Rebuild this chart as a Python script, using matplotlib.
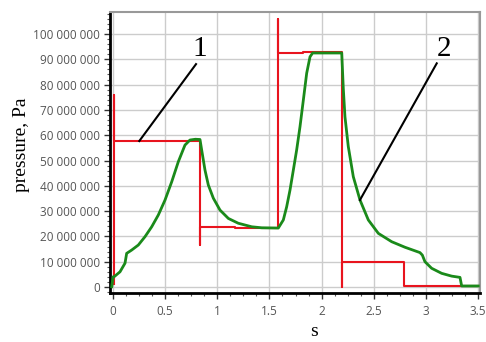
import matplotlib.pyplot as plt
from matplotlib.ticker import MultipleLocator, FuncFormatter

# time, s
green_t = [-0.012, 0.0, 0.012, 0.067, 0.115, 0.131, 0.179, 0.243, 0.307, 0.371,
           0.435, 0.499, 0.563, 0.626, 0.690, 0.738, 0.79, 0.834, 0.85, 0.882,
           0.914, 0.962, 1.026, 1.106, 1.201, 1.33, 1.426, 1.585, 1.633, 1.665,
           1.697, 1.729, 1.761, 1.793, 1.825, 1.857, 1.889, 1.914, 2.193, 2.208,
           2.224, 2.256, 2.304, 2.368, 2.448, 2.544, 2.672, 2.8, 2.943, 2.966,
           2.991, 3.055, 3.151, 3.247, 3.327, 3.343, 3.502]
# pressure, MPa
green_p = [0.1, 4.0, 4.1, 6.0, 9.4, 13.3, 14.6, 16.6, 19.9, 23.8,
           28.5, 34.4, 41.6, 49.5, 56.1, 58.1, 58.4, 58.3, 54.2, 46.2,
           40.3, 35.1, 30.4, 27.1, 25.2, 23.8, 23.4, 23.3, 26.5, 31.7,
           38.3, 46.2, 54.2, 63.4, 73.9, 84.5, 91.0, 92.5, 92.5, 78.5,
           67.3, 55.5, 43.6, 34.4, 26.5, 21.2, 17.9, 15.7, 13.6, 12.6,
           10.0, 7.4, 5.4, 4.3, 3.8, 0.4, 0.4]

red_t = [0.01, 0.01, 0.01, 0.834, 0.834, 0.834, 1.17, 1.17, 1.585, 1.585,
         1.585, 1.82, 1.82, 2.193, 2.193, 2.193, 2.793, 2.793, 3.5]
red_p = [1.0, 76.0, 57.7, 57.7, 16.6, 23.8, 23.8, 23.3, 23.3, 105.8,
         92.4, 92.4, 92.8, 92.8, 0.0, 10.0, 10.0, 0.3, 0.3]

# callouts: label, point on curve, end of leader line, label position (s, MPa)
callouts = [("1", (0.252, 57.7), (0.796, 88.1), (0.834, 94.0)),
            ("2", (2.368, 34.4), (3.104, 88.4), (3.17, 94.0))]

fig = plt.figure(figsize=(4.86, 3.42), dpi=100)
ax = fig.add_axes([0.2263, 0.1433, 0.7614, 0.8216])

ax.plot(red_t, [p * 1e6 for p in red_p], color='#e8141e', lw=1.5, zorder=3)
ax.plot(green_t, [p * 1e6 for p in green_p], color='#1a8a1a', lw=2, zorder=4)

for label, start, end, pos in callouts:
    ax.plot([start[0], end[0]], [start[1] * 1e6, end[1] * 1e6], color='black', lw=1.5, zorder=5)
    ax.text(pos[0], pos[1] * 1e6, label, ha='center', va='center',
            fontsize=21, family='Liberation Serif', zorder=5)

ax.set_xlim(-0.029, 3.519)
ax.set_ylim(-2.37e6, 108.7e6)

ax.xaxis.set_major_locator(MultipleLocator(0.5))
ax.xaxis.set_minor_locator(MultipleLocator(0.125))
ax.yaxis.set_major_locator(MultipleLocator(10e6))
ax.yaxis.set_minor_locator(MultipleLocator(2e6))
ax.xaxis.set_major_formatter(FuncFormatter(lambda v, pos: f"{v:g}"))
ax.yaxis.set_major_formatter(FuncFormatter(lambda v, pos: f"{int(round(v)):,}".replace(",", " ")))

ax.grid(True, which='major', color='#cccccc', lw=1)
ax.set_axisbelow(True)

ax.tick_params(which='major', length=4, width=1, color='#333333',
               labelsize=8.5, labelcolor='#555555', pad=3)
ax.tick_params(which='minor', length=2, width=0.8, color='#555555')
ax.tick_params(axis='x', pad=5)
for lab in ax.get_xticklabels() + ax.get_yticklabels():
    lab.set_family('Open Sans')

for side in ['left', 'bottom']:
    ax.spines[side].set_linewidth(2)
    ax.spines[side].set_color('black')
for side in ['top', 'right']:
    ax.spines[side].set_linewidth(1.5)
    ax.spines[side].set_color('#999999')

fig.text(22 / 486, 1 - 145 / 342, 'pressure, Pa', rotation=90, ha='center', va='center',
         fontsize=14, family='Liberation Serif')
fig.text(314 / 486, 2 / 342, 's', ha='center', va='bottom',
         fontsize=14, family='Liberation Serif')

plt.savefig('out.png', dpi=100)
